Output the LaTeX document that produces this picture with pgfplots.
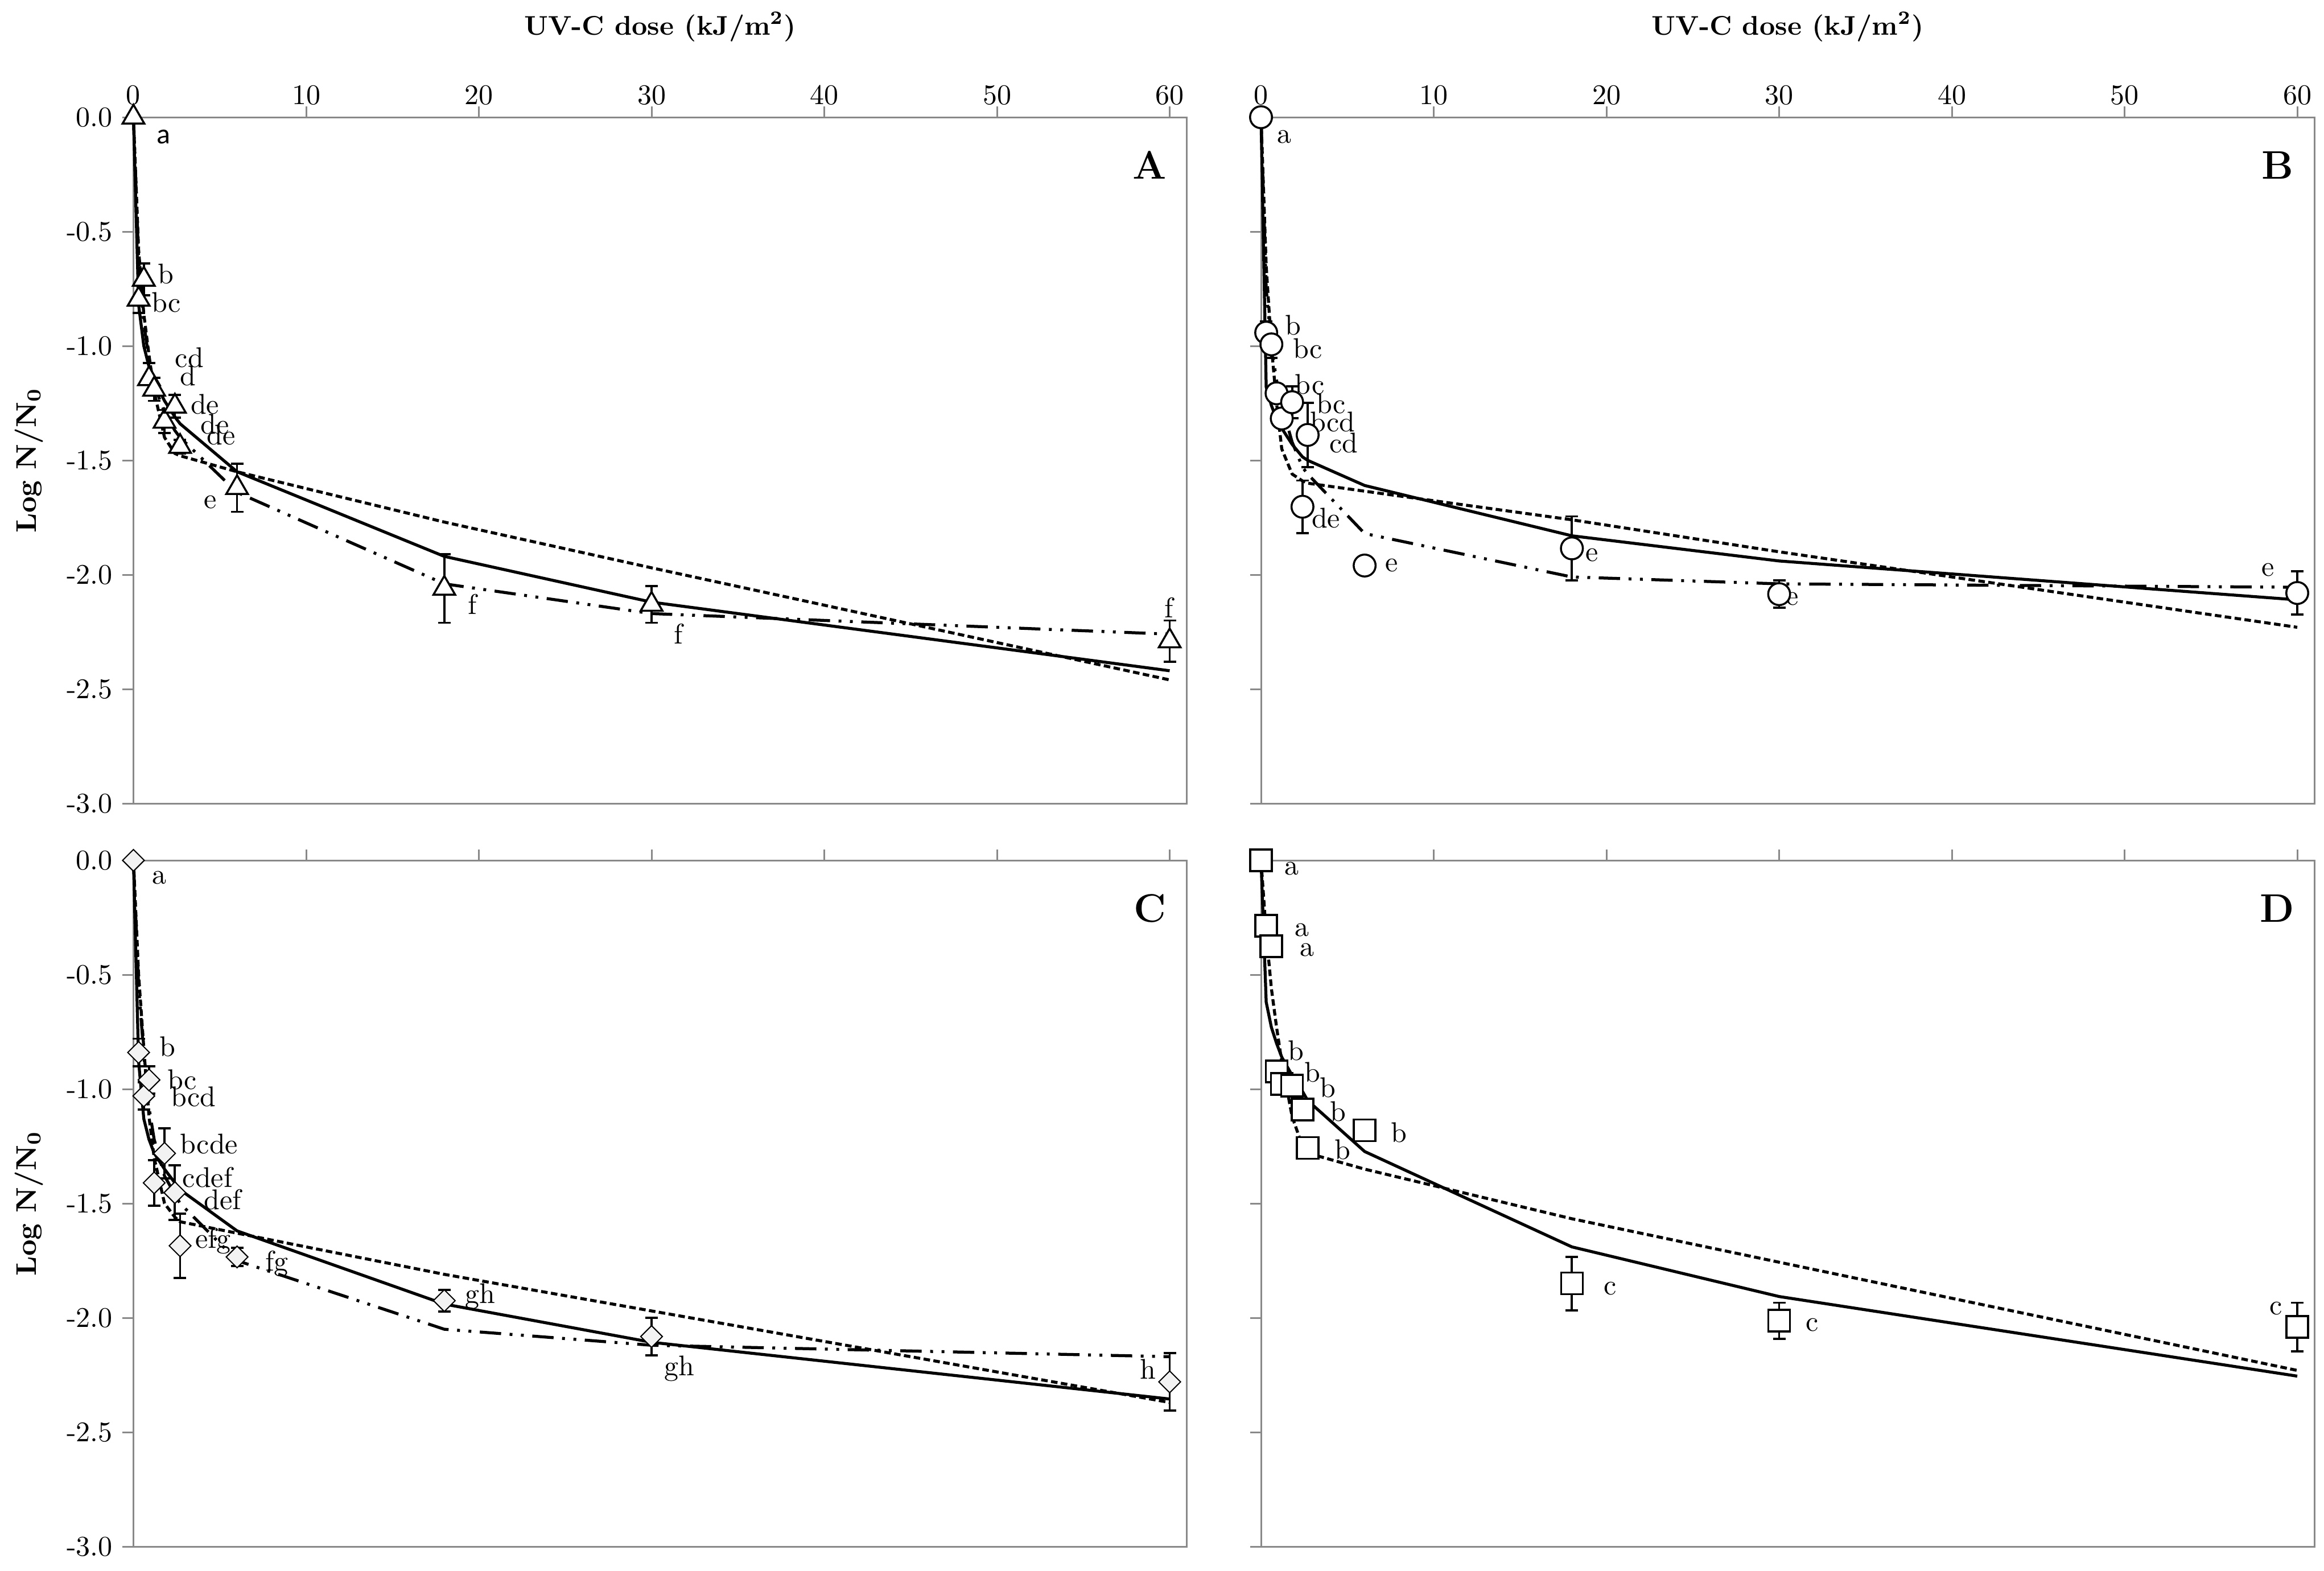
\documentclass[border=0pt]{standalone}
\usepackage{fontspec}
\usepackage{pgfplots}
\usepackage{pgfplotstable}
\pgfplotsset{compat=1.18}
\newfontfamily\calibri{Carlito}
\definecolor{axgray}{RGB}{137,137,137}
\definecolor{diafill}{RGB}{242,242,242}

\pgfplotstableread{
x obs err
0 0 0
0.3 -0.796 0.06
0.6 -0.709 0.07
0.9 -1.144 0.07
1.2 -1.19 0.05
1.8 -1.33 0.05
2.4 -1.264 0.05
2.7 -1.44 0.03
6 -1.62 0.105
18 -2.06 0.15
30 -2.13 0.08
60 -2.29 0.09
}\dataA
\pgfplotstableread{
x obs err
0 0 0
0.3 -0.942 0.05
0.6 -0.993 0.06
0.9 -1.207 0.04
1.2 -1.317 0.04
1.8 -1.246 0.07
2.4 -1.703 0.115
2.7 -1.389 0.14
6 -1.96 0
18 -1.885 0.14
30 -2.085 0.06
60 -2.08 0.095
}\dataB
\pgfplotstableread{
x obs err
0 0 0
0.3 -0.84 0.06
0.6 -1.03 0.06
0.9 -0.96 0.06
1.2 -1.41 0.10
1.8 -1.281 0.11
2.4 -1.453 0.12
2.7 -1.685 0.14
6 -1.734 0.04
18 -1.925 0.047
30 -2.082 0.082
60 -2.28 0.125
}\dataC
\pgfplotstableread{
x obs err
0 0 0.02
0.3 -0.286 0.02
0.6 -0.375 0.02
0.9 -0.923 0.03
1.2 -0.977 0.03
1.8 -0.985 0.02
2.4 -1.09 0.02
2.7 -1.257 0.02
6 -1.18 0.02
18 -1.85 0.117
30 -2.013 0.079
60 -2.04 0.106
}\dataD

\pgfplotsset{
  panel/.style={
    scale only axis, width=370.27pt, height=241.2pt,
    anchor=north west,
    xmin=0, xmax=61, ymin=-3, ymax=0,
    axis line style={draw=axgray, line width=0.6pt},
    every tick/.style={draw=axgray, line width=0.6pt},
    major tick length=3.8pt,
    tick align=outside,
    xtick={0,10,20,30,40,50,60},
    ytick={0,-0.5,-1,-1.5,-2,-2.5,-3},
    xtick pos=right, ytick pos=left,
    xticklabel pos=right, yticklabel pos=left,
    xticklabels={0,10,20,30,40,50,60},
    yticklabels={0.0,-0.5,-1.0,-1.5,-2.0,-2.5,-3.0},
    tick label style={font=\fontsize{10}{12}\selectfont, black},
    xticklabel style={yshift=-3pt},
    every axis x label/.style={at={(rel axis cs:0.5,1)}, anchor=center, yshift=31.8pt,
      font=\fontsize{9.5}{11}\selectfont\bfseries},
    every axis y label/.style={at={(rel axis cs:0,0.5)}, anchor=center, xshift=-36.7pt, rotate=90,
      font=\fontsize{10}{12}\selectfont\bfseries},
    clip=false,
  },
  noxlab/.style={xticklabels={}},
  noylab/.style={yticklabels={}},
  fitS/.style={black, line width=1.05pt, line join=round, mark=none},
  fitD/.style={black, line width=1.05pt, line join=round, mark=none, dash pattern=on 2.3pt off 1.2pt},
  fitDD/.style={black, line width=1.05pt, line join=round, mark=none,
    dash pattern=on 7.5pt off 3pt on 1pt off 3pt on 1pt off 3pt},
  obs/.style={only marks, mark options={draw=black, fill=white, line width=0.7pt},
    error bars/y dir=both, error bars/y explicit,
    error bars/error bar style={black, line width=0.75pt},
    error bars/error mark options={rotate=90, black, line width=0.75pt, mark size=2.2pt}},
}
\newcommand{\lab}[3]{\node[font=\fontsize{10}{12}\selectfont, inner sep=0pt, anchor=center] at (axis cs:#1,#2) {#3};}
\newcommand{\panlab}[1]{\node[font=\fontsize{14}{16}\selectfont\bfseries, inner sep=0pt] at (axis cs:58.85,-0.21) {#1};}

\begin{document}
\begin{tikzpicture}
\path[use as bounding box] (0pt,0pt) rectangle (816.8pt,-552pt);

% ---------------- A ----------------
\begin{axis}[panel, at={(46.9pt,-41.2pt)},
  xlabel={UV-C dose (kJ/m\textsuperscript{2})}, ylabel={Log N/N\textsubscript{0}}]
\addplot[fitS] coordinates {(0,0) (0.3,-0.82) (0.6,-1.0) (0.9,-1.09) (1.2,-1.15) (1.8,-1.24) (2.4,-1.31) (2.7,-1.34) (6,-1.55) (18,-1.92) (30,-2.12) (60,-2.42)};
\addplot[fitD] coordinates {(0,0) (0.3,-0.58) (0.6,-0.86) (0.9,-1.04) (1.2,-1.2) (1.8,-1.40) (2.4,-1.47) (2.7,-1.48) (6,-1.55) (18,-1.77) (30,-1.97) (60,-2.46)};
\addplot[fitDD] coordinates {(0,0) (0.3,-0.62) (0.6,-0.90) (0.9,-1.06) (1.2,-1.17) (1.8,-1.29) (2.4,-1.37) (2.7,-1.40) (6,-1.64) (18,-2.04) (30,-2.17) (60,-2.26)};
\addplot[obs, mark=triangle*, mark size=4.4pt] table[x=x, y=obs, y error=err] {\dataA};
\node[font=\calibri\fontsize{10}{12}\selectfont, inner sep=0pt] at (axis cs:1.73,-0.087) {a};
\lab{1.88}{-0.685}{b}
\lab{1.9}{-0.81}{bc}
\lab{3.24}{-1.05}{cd}
\lab{3.15}{-1.13}{d}
\lab{4.14}{-1.256}{de}
\lab{4.71}{-1.343}{de}
\lab{5.09}{-1.39}{de}
\lab{4.46}{-1.684}{e}
\lab{19.64}{-2.13}{f}
\lab{31.54}{-2.258}{f}
\lab{59.95}{-2.143}{f}
\panlab{A}
\end{axis}

% ---------------- B ----------------
\begin{axis}[panel, noylab, at={(443.2pt,-41.2pt)},
  xlabel={UV-C dose (kJ/m\textsuperscript{2})}]
\addplot[fitS] coordinates {(0,0) (0.3,-1.18) (0.6,-1.26) (0.9,-1.32) (1.2,-1.36) (1.8,-1.43) (2.4,-1.485) (2.7,-1.50) (6,-1.61) (18,-1.83) (30,-1.94) (60,-2.11)};
\addplot[fitD] coordinates {(0,0) (0.3,-0.65) (0.6,-1.0) (0.9,-1.25) (1.2,-1.45) (1.8,-1.56) (2.4,-1.59) (2.7,-1.60) (6,-1.635) (18,-1.76) (30,-1.90) (60,-2.23)};
\addplot[fitDD] coordinates {(0,0) (0.3,-0.75) (0.6,-1.0) (0.9,-1.15) (1.2,-1.26) (1.8,-1.42) (2.4,-1.53) (2.7,-1.56) (6,-1.82) (18,-2.01) (30,-2.04) (60,-2.055)};
\addplot[obs, mark=*, mark size=3.85pt] table[x=x, y=obs, y error=err] {\dataB};
\lab{1.36}{-0.086}{a}
\lab{1.87}{-0.91}{b}
\lab{2.71}{-1.01}{bc}
\lab{2.82}{-1.167}{bc}
\lab{4.06}{-1.253}{bc}
\lab{4.14}{-1.332}{bcd}
\lab{4.8}{-1.424}{cd}
\lab{3.76}{-1.753}{de}
\lab{7.55}{-1.96}{e}
\lab{19.16}{-1.914}{e}
\lab{30.77}{-2.107}{e}
\lab{58.3}{-1.98}{e}
\panlab{B}
\end{axis}

% ---------------- C ----------------
\begin{axis}[panel, noxlab, at={(46.9pt,-302.4pt)},
  ylabel={Log N/N\textsubscript{0}}]
\addplot[fitS] coordinates {(0,0) (0.3,-0.88) (0.6,-1.13) (0.9,-1.22) (1.2,-1.28) (1.8,-1.35) (2.4,-1.41) (2.7,-1.44) (6,-1.62) (18,-1.94) (30,-2.107) (60,-2.355)};
\addplot[fitD] coordinates {(0,0) (0.3,-0.5) (0.6,-0.82) (0.9,-1.12) (1.2,-1.3) (1.8,-1.5) (2.4,-1.56) (2.7,-1.58) (6,-1.63) (18,-1.81) (30,-1.97) (60,-2.37)};
\addplot[fitDD] coordinates {(0,0) (0.3,-0.55) (0.6,-0.85) (0.9,-1.08) (1.2,-1.22) (1.8,-1.38) (2.4,-1.46) (2.7,-1.50) (6,-1.75) (18,-2.05) (30,-2.12) (60,-2.17)};
\addplot[obs, mark=square*, mark size=2.7pt, mark options={rotate=45, fill=diafill}] table[x=x, y=obs, y error=err] {\dataC};
\lab{1.49}{-0.076}{a}
\lab{1.99}{-0.814}{b}
\lab{2.81}{-0.959}{bc}
\lab{3.47}{-1.034}{bcd}
\lab{4.38}{-1.241}{bcde}
\lab{4.29}{-1.386}{cdef}
\lab{5.17}{-1.482}{def}
\lab{4.62}{-1.664}{efg}
\lab{8.3}{-1.764}{fg}
\lab{20.08}{-1.907}{gh}
\lab{31.6}{-2.221}{gh}
\lab{58.75}{-2.224}{h}
\panlab{C}
\end{axis}

% ---------------- D ----------------
\begin{axis}[panel, noxlab, noylab, at={(443.2pt,-302.4pt)}]
\addplot[fitS] coordinates {(0,0) (0.3,-0.62) (0.6,-0.73) (0.9,-0.80) (1.2,-0.86) (1.8,-0.94) (2.4,-1.01) (2.7,-1.05) (6,-1.273) (18,-1.69) (30,-1.907) (60,-2.255)};
\addplot[fitD] coordinates {(0,0) (0.3,-0.32) (0.6,-0.56) (0.9,-0.73) (1.2,-0.88) (1.8,-1.12) (2.4,-1.25) (2.7,-1.28) (6,-1.35) (18,-1.567) (30,-1.757) (60,-2.23)};
\addplot[obs, mark=square*, mark size=3.8pt] table[x=x, y=obs, y error=err] {\dataD};
\lab{1.78}{-0.037}{a}
\lab{2.36}{-0.304}{a}
\lab{2.66}{-0.393}{a}
\lab{2.02}{-0.832}{b}
\lab{2.99}{-0.926}{b}
\lab{3.87}{-0.993}{b}
\lab{4.47}{-1.098}{b}
\lab{7.98}{-1.189}{b}
\lab{4.74}{-1.265}{b}
\lab{20.23}{-1.871}{c}
\lab{31.92}{-2.03}{c}
\lab{58.76}{-1.958}{c}
\panlab{D}
\end{axis}
\end{tikzpicture}
\end{document}
